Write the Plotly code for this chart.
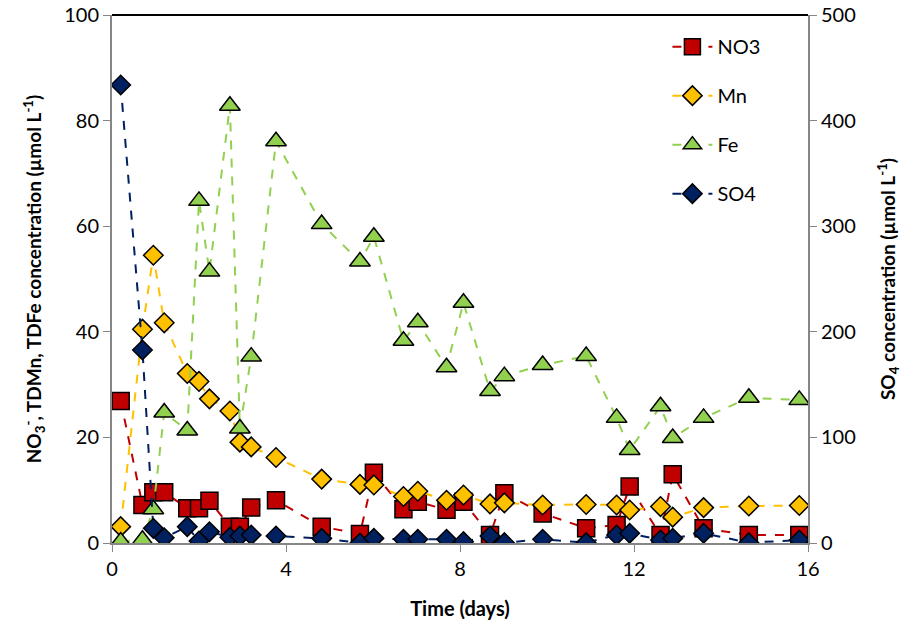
import plotly.graph_objects as go

time_days = [0.2, 0.7, 0.95, 1.2, 1.73, 2.0, 2.24, 2.71, 2.94, 3.2, 3.77, 4.82, 5.7, 6.02,
             6.7, 7.03, 7.69, 8.08, 8.69, 9.02, 9.9, 10.9, 11.6, 11.9, 12.61, 12.89, 13.6,
             14.64, 15.8]
no3 = [26.9, 7.2, 9.6, 9.6, 6.6, 6.6, 8.0, 3.1, 3.1, 6.7, 8.1, 3.1, 1.7, 13.3,
       6.4, 7.8, 6.3, 7.8, 1.5, 9.4, 5.6, 2.8, 3.4, 10.7, 1.5, 13.0, 2.8, 1.5, 1.5]
mn = [3.1, 40.5, 54.5, 41.7, 32.1, 30.6, 27.3, 25.0, 19.1, 18.2, 16.2, 12.1, 11.1, 11.0,
      8.8, 9.8, 8.1, 9.1, 7.4, 7.6, 7.2, 7.3, 7.2, 6.25, 6.9, 4.9, 6.7, 7.0, 7.1]
fe = [0.3, 0.6, 6.4, 24.7, 21.3, 64.8, 51.4, 82.8, 21.7, 35.3, 76.1, 60.4, 53.3, 58.0,
      38.3, 41.8, 33.3, 45.5, 28.8, 31.6, 33.7, 35.4, 23.7, 17.6, 25.9, 19.9, 23.7, 27.5, 27.1]
so4 = [433.7, 182.8, 13.9, 5.0, 15.5, 1.9, 10.7, 5.4, 6.6, 7.6, 6.6, 4.4, 0.0, 4.4,
       3.5, 3.5, 3.5, 1.3, 6.6, 0.3, 3.5, 0.3, 7.6, 9.2, 2.8, 4.4, 9.2, 0.3, 2.8]

x_ticks = [0, 4, 8, 12, 16]
left_ticks = [0, 20, 40, 60, 80, 100]
right_ticks = [0, 100, 200, 300, 400, 500]

FONT = "Lato, Carlito, Calibri, sans-serif"
AXIS_GRAY = "#868686"

fig = go.Figure()

def add(name, y, color, symbol, size, yaxis="y", group="a"):
    fig.add_trace(go.Scatter(
        x=time_days, y=y, name=name, mode="lines+markers", yaxis=yaxis,
        legendgroup=group,
        line=dict(color=color, width=2, dash="dash"),
        marker=dict(symbol=symbol, size=size, color=color,
                    line=dict(color="black", width=1.5)),
    ))

add("NO3", no3, "#C00000", "square", 17, group="g1")
add("Mn", mn, "#FFC000", "diamond", 15, group="g2")
add("Fe", fe, "#92D050", "triangle-up", 18, group="g3")
add("SO4", so4, "#002060", "diamond", 15, yaxis="y2", group="g4")

common_axis = dict(showgrid=False, zeroline=False, showline=True, linecolor=AXIS_GRAY,
                   linewidth=2, ticks="outside", tickcolor=AXIS_GRAY, ticklen=7,
                   tickwidth=1, automargin=False)

fig.update_layout(
    width=913, height=625,
    margin=dict(l=112, r=105, t=15, b=82),
    paper_bgcolor="white", plot_bgcolor="white",
    font=dict(family=FONT, size=20, color="black"),
    showlegend=True,
    legend=dict(x=0.798, y=0.977, xanchor="left", yanchor="top",
                bgcolor="rgba(0,0,0,0)", font=dict(size=20, family=FONT),
                tracegroupgap=20, itemwidth=40),
    xaxis=dict(range=[0, 16], tickvals=x_ticks, ticktext=[str(v) for v in x_ticks],
               title=dict(text="<b>Time (days)</b>", font=dict(size=20, family=FONT),
                          standoff=23),
               **common_axis),
    yaxis=dict(range=[0, 100], tickvals=left_ticks, ticktext=[str(v) for v in left_ticks],
               title=dict(text="<b>NO<sub>3</sub><sup>-</sup>, TDMn, TDFe concentration (µmol L<sup>-1</sup>)</b>",
                          font=dict(size=19, family=FONT), standoff=18),
               **common_axis),
    yaxis2=dict(range=[0, 500], tickvals=right_ticks, ticktext=[str(v) for v in right_ticks],
                overlaying="y", side="right",
                title=dict(text="<b>SO<sub>4</sub> concentration (µmol L<sup>-1</sup>)</b>",
                           font=dict(size=19, family=FONT), standoff=27),
                **common_axis),
    shapes=[dict(type="line", xref="paper", yref="paper", x0=0, x1=1, y0=1, y1=1,
                 line=dict(color="black", width=2))],
)

fig.write_html("out.html", config={"displayModeBar": False},
               post_script="document.body.style.margin='0';")
